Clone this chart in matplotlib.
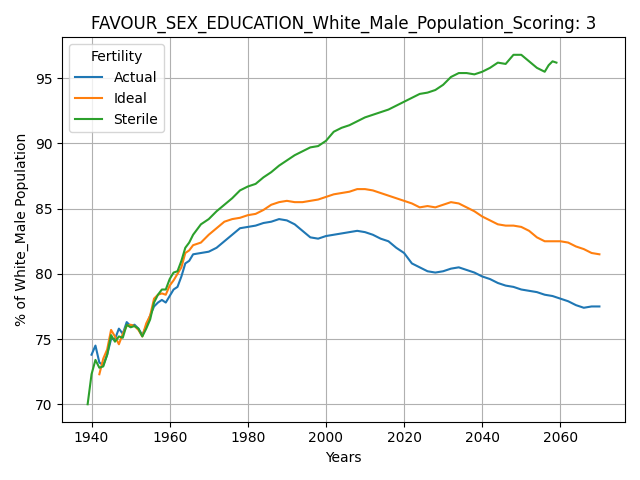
import matplotlib
matplotlib.use("Agg")
import matplotlib.pyplot as plt

early = list(range(1940, 1966))
late = list(range(1966, 2071, 2))

actual_years = early + late
actual = [73.8, 74.5, 73.2, 73.0, 73.8, 75.0, 75.0, 75.8, 75.4, 76.3, 76.0, 76.1, 75.8,
          75.3, 76.0, 76.8, 77.5, 77.8, 78.0, 77.8, 78.3, 78.8, 79.0, 79.8, 80.8, 81.0,
          81.5, 81.6, 81.7, 82.0, 82.5, 83.0, 83.5, 83.6, 83.7, 83.9, 84.0, 84.2, 84.1,
          83.8, 83.3, 82.8, 82.7, 82.9, 83.0, 83.1, 83.2, 83.3, 83.2, 83.0, 82.7, 82.5,
          82.0, 81.6, 80.8, 80.5, 80.2, 80.1, 80.2, 80.4, 80.5, 80.3, 80.1, 79.8, 79.6,
          79.3, 79.1, 79.0, 78.8, 78.7, 78.6, 78.4, 78.3, 78.1, 77.9, 77.6, 77.4, 77.5,
          77.5]

ideal_years = early[2:] + late
ideal = [72.3, 73.5, 74.2, 75.7, 75.2, 74.6, 75.4, 76.0, 76.1, 76.0, 75.7, 75.2, 76.2,
         76.8, 78.1, 78.4, 78.5, 78.4, 79.1, 79.5, 80.0, 80.5, 81.6, 81.8,
         82.2, 82.4, 83.0, 83.5, 84.0, 84.2, 84.3, 84.5, 84.6, 84.9, 85.3, 85.5, 85.6,
         85.5, 85.5, 85.6, 85.7, 85.9, 86.1, 86.2, 86.3, 86.5, 86.5, 86.4, 86.2, 86.0,
         85.8, 85.6, 85.4, 85.1, 85.2, 85.1, 85.3, 85.5, 85.4, 85.1, 84.8, 84.4, 84.1,
         83.8, 83.7, 83.7, 83.6, 83.3, 82.8, 82.5, 82.5, 82.5, 82.4, 82.1, 81.9, 81.6,
         81.5]

sterile_years = [1939] + early + list(range(1966, 2057, 2)) + [2057, 2058, 2059]
sterile = [70.0, 72.3, 73.4, 72.8, 72.9, 73.8, 75.3, 74.8, 75.2, 75.1, 76.1, 75.9, 76.0,
           75.8, 75.2, 75.8, 76.5, 77.8, 78.4, 78.8, 78.8, 79.6, 80.1, 80.2, 81.0, 82.0,
           82.4, 83.0, 83.8, 84.2, 84.8, 85.3, 85.8, 86.4, 86.7, 86.9, 87.4, 87.8, 88.3,
           88.7, 89.1, 89.4, 89.7, 89.8, 90.2, 90.9, 91.2, 91.4, 91.7, 92.0, 92.2, 92.4,
           92.6, 92.9, 93.2, 93.5, 93.8, 93.9, 94.1, 94.5, 95.1, 95.4, 95.4, 95.3, 95.5,
           95.8, 96.2, 96.1, 96.8, 96.8, 96.3, 95.8, 95.5, 96.0, 96.3, 96.2]

fig, ax = plt.subplots(figsize=(6.4, 4.8), dpi=100)
ax.plot(actual_years, actual, label="Actual")
ax.plot(ideal_years, ideal, label="Ideal")
ax.plot(sterile_years, sterile, label="Sterile")
ax.set_xlabel("Years")
ax.set_ylabel("% of White_Male Population")
ax.set_title("FAVOUR_SEX_EDUCATION_White_Male_Population_Scoring: 3")
ax.legend(title="Fertility", loc="upper left")
ax.grid(True, color="#b0b0b0")
plt.tight_layout()
plt.savefig("out.png")
